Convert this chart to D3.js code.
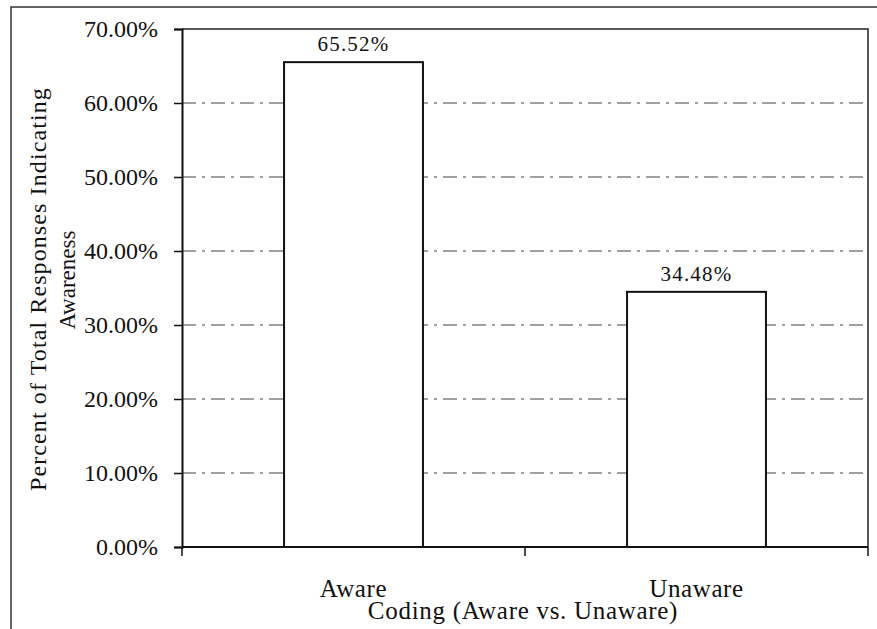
<!DOCTYPE html>
<html>
<head>
<meta charset="utf-8">
<script src="https://cdn.jsdelivr.net/npm/d3@7"></script>
<style>
  body { margin: 0; background: #fff; }
  text { font-family: "Liberation Serif", "Times New Roman", serif; fill: #111; }
</style>
</head>
<body>
<div id="chart"></div>
<script>
  const categories = ["Aware", "Unaware"];
  const values = [65.52, 34.48];
  const valueLabels = ["65.52%", "34.48%"];
  const yTicks = [0, 10, 20, 30, 40, 50, 60, 70];

  const width = 877,
    height = 629,
    plotLeft = 182,
    plotRight = 868,
    plotTop = 29,
    plotBottom = 547;

  const svg = d3.select("#chart")
    .append("svg")
    .attr("width", width)
    .attr("height", height);

  // outer frame (right/bottom edges fall outside the picture)
  svg.append("rect")
    .attr("x", 11).attr("y", 7)
    .attr("width", 900).attr("height", 700)
    .attr("fill", "none")
    .attr("stroke", "#333")
    .attr("stroke-width", 1.5);

  const x = d3.scaleBand()
    .domain(categories)
    .range([plotLeft, plotRight])
    .paddingInner(0.595)
    .paddingOuter(0.2975);

  const y = d3.scaleLinear().domain([0, 70]).range([plotBottom, plotTop]);

  // grid lines
  svg.append("g")
    .selectAll("line")
    .data(yTicks.filter(d => d > 0 && d < 70))
    .join("line")
    .attr("x1", plotLeft).attr("x2", plotRight)
    .attr("y1", d => y(d)).attr("y2", d => y(d))
    .attr("stroke", "#444")
    .attr("stroke-width", 1)
    .attr("stroke-dasharray", "14,6,3,6");

  // plot border top/right
  svg.append("path")
    .attr("d", `M${plotLeft},${plotTop}H${plotRight}V${plotBottom}`)
    .attr("fill", "none")
    .attr("stroke", "#222")
    .attr("stroke-width", 1.5);

  // bars
  svg.append("g")
    .selectAll("rect")
    .data(values)
    .join("rect")
    .attr("x", (d, i) => x(categories[i]))
    .attr("y", d => y(d))
    .attr("width", x.bandwidth())
    .attr("height", d => y(0) - y(d))
    .attr("fill", "#fff")
    .attr("stroke", "#111")
    .attr("stroke-width", 2);

  // value labels
  svg.append("g")
    .attr("font-size", 21)
    .attr("letter-spacing", 1.2)
    .attr("text-anchor", "middle")
    .selectAll("text")
    .data(values)
    .join("text")
    .attr("x", (d, i) => x(categories[i]) + x.bandwidth() / 2)
    .attr("y", d => y(d) - 11)
    .text((d, i) => valueLabels[i]);

  // y axis
  const yAxis = svg.append("g")
    .attr("transform", `translate(${plotLeft},0)`)
    .call(d3.axisLeft(y).tickValues(yTicks).tickSize(8).tickPadding(16)
      .tickFormat(d => d.toFixed(2) + "%"));
  yAxis.select(".domain").attr("stroke", "#111").attr("stroke-width", 2);
  yAxis.selectAll(".tick line").attr("stroke", "#111").attr("stroke-width", 1.5);
  yAxis.selectAll(".tick text")
    .attr("font-size", 24)
    .attr("font-family", "Liberation Serif, serif")
    .attr("fill", "#111");

  // x axis: ticks between categories
  const xTicks = [plotLeft, (plotLeft + plotRight) / 2, plotRight];
  svg.append("line")
    .attr("x1", plotLeft).attr("x2", plotRight)
    .attr("y1", plotBottom).attr("y2", plotBottom)
    .attr("stroke", "#111").attr("stroke-width", 2);
  svg.append("g")
    .selectAll("line")
    .data(xTicks)
    .join("line")
    .attr("x1", d => d).attr("x2", d => d)
    .attr("y1", plotBottom).attr("y2", plotBottom + 9)
    .attr("stroke", "#111").attr("stroke-width", 1.5);

  svg.append("g")
    .attr("font-size", 25)
    .attr("letter-spacing", 0.6)
    .attr("text-anchor", "middle")
    .selectAll("text")
    .data(categories)
    .join("text")
    .attr("x", d => x(d) + x.bandwidth() / 2)
    .attr("y", 597)
    .text(d => d);

  // axis titles
  svg.append("text")
    .attr("x", 523).attr("y", 619)
    .attr("font-size", 25)
    .attr("letter-spacing", 0.7)
    .attr("text-anchor", "middle")
    .text("Coding (Aware vs. Unaware)");

  svg.append("text")
    .attr("transform", "translate(46,289) rotate(-90)")
    .attr("font-size", 24)
    .attr("letter-spacing", 1.1)
    .attr("text-anchor", "middle")
    .text("Percent of Total Responses Indicating");

  svg.append("text")
    .attr("transform", "translate(75,280) rotate(-90)")
    .attr("font-size", 23)
    .attr("text-anchor", "middle")
    .text("Awareness");
</script>
</body>
</html>
